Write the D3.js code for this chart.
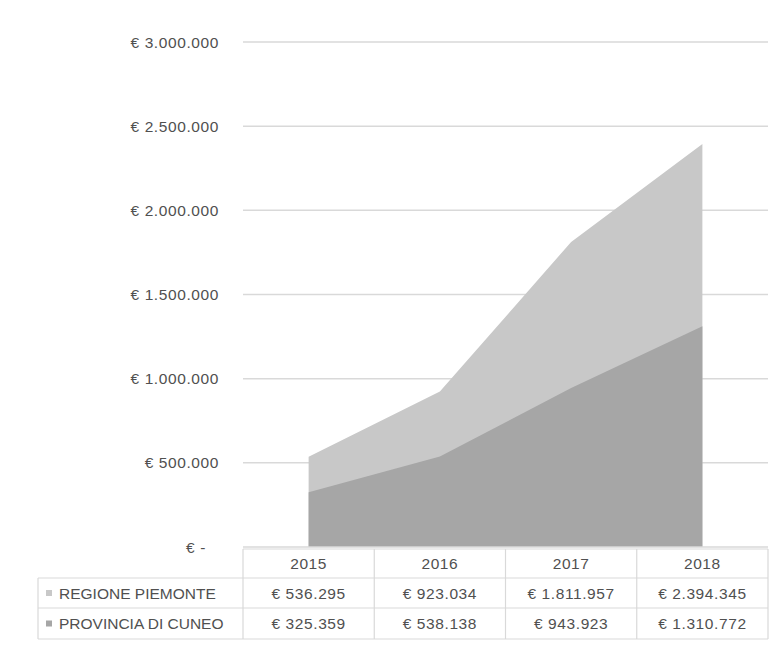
<!DOCTYPE html>
<html><head><meta charset="utf-8">
<script src="https://cdn.jsdelivr.net/npm/d3@7"></script>
<style>body{margin:0;background:#fff}svg{display:block}</style>
</head><body>
<script>
const years = ["2015","2016","2017","2018"];
const seriesNames = ["REGIONE PIEMONTE","PROVINCIA DI CUNEO"];
const regione = [536295, 923034, 1811957, 2394345];
const provincia = [325359, 538138, 943923, 1310772];
const yTicks = [0, 500000, 1000000, 1500000, 2000000, 2500000, 3000000];
const colors = ["#c8c8c8", "#a6a6a6"];

const W = 776, H = 651;
const svg = d3.select("body").append("svg").attr("width", W).attr("height", H);
const font = "Liberation Sans, Arial, sans-serif";
const txt = "#505050";
const fs = 15.5;

const x0 = 243, x1 = 768;
const y = d3.scaleLinear().domain([0, 3000000]).range([547, 42]);
const xb = d3.scaleBand().domain(years).range([x0, x1]);
const xp = d => xb(d) + xb.bandwidth() / 2;

const fmt = v => "€ " + d3.format(",")(v).replace(/,/g, ".");

// gridlines
svg.append("g").selectAll("line").data(yTicks.filter(t => t > 0)).join("line")
  .attr("x1", x0).attr("x2", x1).attr("y1", d => y(d)).attr("y2", d => y(d))
  .attr("stroke", "#d9d9d9").attr("stroke-width", 1.5);

// y labels
svg.append("g").selectAll("text").data(yTicks).join("text")
  .attr("x", d => d === 0 ? 206 : 219).attr("y", d => y(d) + 5.5)
  .attr("text-anchor", "end").attr("font-family", font).attr("font-size", fs)
  .attr("letter-spacing", 0.6)
  .attr("fill", txt).text(d => d === 0 ? "€ -" : fmt(d));

// areas
const area = d3.area().x((d, i) => xp(years[i])).y0(y(0)).y1(d => y(d));
[regione, provincia].forEach((s, i) => {
  svg.append("path").datum(s).attr("d", area).attr("fill", colors[i]);
});

// baseline
svg.append("line").attr("x1", x0).attr("x2", x1).attr("y1", y(0)).attr("y2", y(0))
  .attr("stroke", "#d9d9d9").attr("stroke-width", 1.5);

// data table
const rowY = [549, 578, 608, 639];
const lx = 38;
const g = svg.append("g").attr("stroke", "#d9d9d9").attr("stroke-width", 1.2);
g.append("line").attr("x1", x0).attr("x2", x1).attr("y1", rowY[0]).attr("y2", rowY[0]);
[1, 2, 3].forEach(i => g.append("line").attr("x1", lx).attr("x2", x1).attr("y1", rowY[i]).attr("y2", rowY[i]));
years.forEach(yr => g.append("line").attr("x1", xb(yr)).attr("x2", xb(yr)).attr("y1", rowY[0]).attr("y2", rowY[3]));
g.append("line").attr("x1", x1).attr("x2", x1).attr("y1", rowY[0]).attr("y2", rowY[3]);
g.append("line").attr("x1", lx).attr("x2", lx).attr("y1", rowY[1]).attr("y2", rowY[3]);

// headers
svg.append("g").selectAll("text").data(years).join("text")
  .attr("x", d => xp(d)).attr("y", (rowY[0] + rowY[1]) / 2 + 5.5).attr("text-anchor", "middle")
  .attr("font-family", font).attr("font-size", fs).attr("letter-spacing", 0.6)
  .attr("fill", txt).text(d => d);

[regione, provincia].forEach((s, i) => {
  const cy = (rowY[i + 1] + rowY[i + 2]) / 2;
  svg.append("rect").attr("x", 46).attr("y", cy - 3).attr("width", 6).attr("height", 6).attr("fill", colors[i]);
  svg.append("text").attr("x", 59).attr("y", cy + 5.5).attr("font-family", font).attr("font-size", fs)
    .attr("fill", txt).text(seriesNames[i]);
  svg.append("g").selectAll("text").data(s).join("text")
    .attr("x", (d, j) => xp(years[j])).attr("y", cy + 5.5).attr("text-anchor", "middle")
    .attr("font-family", font).attr("font-size", fs).attr("letter-spacing", 0.6)
    .attr("fill", txt).text(d => fmt(d));
});
</script>
</body></html>
